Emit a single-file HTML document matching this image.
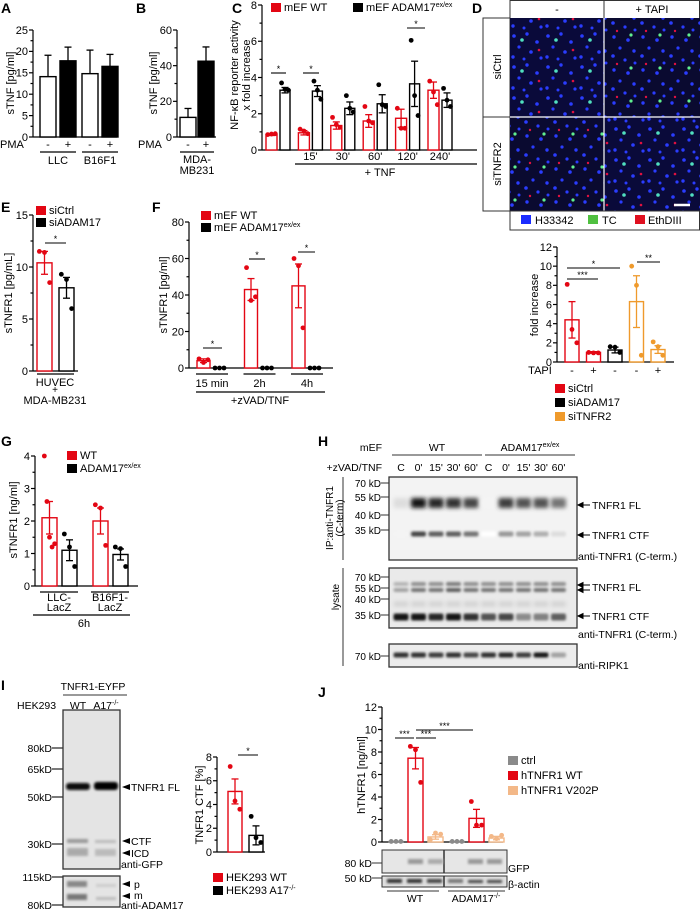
<!DOCTYPE html>
<html><head><meta charset="utf-8"><style>
html,body{margin:0;padding:0;background:#fff}
svg{display:block;font-family:"Liberation Sans",Arial,sans-serif}
</style></head><body>
<svg id="fig" width="700" height="910" viewBox="0 0 700 910" xmlns="http://www.w3.org/2000/svg">
<defs>
<filter id="blur1" x="-50%" y="-100%" width="200%" height="300%"><feGaussianBlur stdDeviation="1.2"/></filter>
<filter id="blur2" x="-50%" y="-100%" width="200%" height="300%"><feGaussianBlur stdDeviation="2.2"/></filter>
<pattern id="cells1" width="34" height="31" patternUnits="userSpaceOnUse">
<rect width="34" height="31" fill="#0a0a3a"/>
<circle cx="4" cy="5" r="1.8" fill="#2a3cff"/><circle cx="17" cy="3" r="1.7" fill="#2a3cff"/><circle cx="27" cy="11" r="1.8" fill="#2a3cff"/><circle cx="9" cy="16" r="1.6" fill="#2a3cff"/><circle cx="21" cy="21" r="1.8" fill="#2a3cff"/><circle cx="3" cy="26" r="1.7" fill="#2a3cff"/><circle cx="31" cy="27" r="1.6" fill="#2a3cff"/><circle cx="14" cy="28" r="1.5" fill="#2a3cff"/><circle cx="12" cy="9" r="1.8" fill="#50e0c0"/><circle cx="29" cy="19" r="1.3" fill="#e01040"/>
</pattern>
<pattern id="cells2" width="29" height="33" patternUnits="userSpaceOnUse">
<rect width="29" height="33" fill="#0a0a30"/>
<circle cx="5" cy="4" r="1.7" fill="#2a3cff"/><circle cx="19" cy="7" r="1.8" fill="#2a3cff"/><circle cx="11" cy="15" r="1.6" fill="#2a3cff"/><circle cx="25" cy="18" r="1.7" fill="#2a3cff"/><circle cx="4" cy="23" r="1.8" fill="#2a3cff"/><circle cx="16" cy="27" r="1.6" fill="#2a3cff"/><circle cx="26" cy="30" r="1.5" fill="#2a3cff"/><circle cx="22" cy="2" r="1.6" fill="#60f090"/><circle cx="8" cy="31" r="1.2" fill="#e01040"/>
</pattern>
</defs>
<g font-weight="bold" font-size="14">
<text x="1" y="13">A</text><text x="136" y="13">B</text><text x="232" y="13">C</text><text x="472" y="13">D</text>
<text x="1" y="212">E</text><text x="152" y="212">F</text><text x="1" y="446">G</text><text x="318" y="446">H</text>
<text x="1" y="690">I</text><text x="318" y="697">J</text>
</g>

<!-- D microscopy -->
<g>
<rect x="510" y="0.5" width="189.5" height="18" fill="#fff" stroke="#333"/>
<line x1="604" y1="0" x2="604" y2="18" stroke="#333"/>
<text x="557" y="13" font-size="11" text-anchor="middle">-</text>
<text x="652" y="13" font-size="11" text-anchor="middle">+ TAPI</text>
<rect x="483" y="18" width="27" height="193" fill="#fff" stroke="#333"/>
<line x1="483" y1="117" x2="510" y2="117" stroke="#333"/>
<text transform="translate(501,67) rotate(-90)" font-size="11" text-anchor="middle">siCtrl</text>
<text transform="translate(501,164) rotate(-90)" font-size="11" text-anchor="middle">siTNFR2</text>
<rect x="510" y="18" width="94" height="99" fill="url(#cells1)"/>
<rect x="604" y="18" width="96" height="99" fill="url(#cells2)"/>
<rect x="510" y="117" width="94" height="94" fill="url(#cells2)"/>
<rect x="604" y="117" width="96" height="94" fill="url(#cells1)"/>
<line x1="604" y1="18" x2="604" y2="211" stroke="#fff" stroke-width="1.2"/>
<line x1="510" y1="117" x2="700" y2="117" stroke="#fff" stroke-width="1.2"/>
<line x1="674" y1="205" x2="690" y2="205" stroke="#fff" stroke-width="2.5"/>
<rect x="510" y="211" width="189.5" height="19" fill="#fff" stroke="#333"/>
<rect x="521" y="215" width="10" height="9" fill="#1a2cff"/><text x="535" y="224" font-size="11">H33342</text>
<rect x="588" y="215" width="10" height="9" fill="#50c040"/><text x="602" y="224" font-size="11">TC</text>
<rect x="635" y="215" width="10" height="9" fill="#e01020"/><text x="648" y="224" font-size="11">EthDIII</text>
</g>

<!-- H blots -->
<g font-size="10.5">
<text x="382" y="451" text-anchor="end">mEF</text>
<text x="437" y="451" text-anchor="middle">WT</text>
<text x="530" y="451" text-anchor="middle">ADAM17<tspan font-size="7" dy="-4">ex/ex</tspan></text>
<line x1="392" y1="455" x2="482" y2="455" stroke="#333"/>
<line x1="485" y1="455" x2="575" y2="455" stroke="#333"/>
<text x="382" y="471" text-anchor="end">+zVAD/TNF</text>
<line x1="343" y1="477" x2="343" y2="560" stroke="#333"/>
<text transform="translate(333,518) rotate(-90)" font-size="10" text-anchor="middle">IP:anti-TNFR1</text>
<text transform="translate(343,518) rotate(-90)" font-size="10" text-anchor="middle">(C-term)</text>
<line x1="343" y1="568" x2="343" y2="666" stroke="#333"/>
<text transform="translate(339,597) rotate(-90)" font-size="10" text-anchor="middle">lysate</text>
<g id="hLanes"></g>
<rect x="389" y="477" width="188" height="83" fill="#f3f3f3" stroke="#333" stroke-width="1.3"/>
<rect x="389" y="568" width="188" height="60" fill="#eaeaea" stroke="#333" stroke-width="1.3"/>
<rect x="389" y="644" width="188" height="23" fill="#ececec" stroke="#333" stroke-width="1.3"/>
<g id="hBands"></g>
<g font-size="10" text-anchor="end">
<text x="381" y="487">70 kD</text><line x1="381" y1="483" x2="389" y2="483" stroke="#333"/>
<text x="381" y="501">55 kD</text><line x1="381" y1="497" x2="389" y2="497" stroke="#333"/>
<text x="381" y="519">40 kD</text><line x1="381" y1="515" x2="389" y2="515" stroke="#333"/>
<text x="381" y="534">35 kD</text><line x1="381" y1="530" x2="389" y2="530" stroke="#333"/>
<text x="381" y="581">70 kD</text><line x1="381" y1="577" x2="389" y2="577" stroke="#333"/>
<text x="381" y="592">55 kD</text><line x1="381" y1="588" x2="389" y2="588" stroke="#333"/>
<text x="381" y="603">40 kD</text><line x1="381" y1="599" x2="389" y2="599" stroke="#333"/>
<text x="381" y="619">35 kD</text><line x1="381" y1="615" x2="389" y2="615" stroke="#333"/>
<text x="381" y="660">70 kD</text><line x1="381" y1="656" x2="389" y2="656" stroke="#333"/>
</g>
<g font-size="10.5">
<text x="592" y="509">TNFR1 FL</text><path d="M578 505 L590 505 M578 505 l5 -2.5 v5z" stroke="#000" fill="#000"/>
<text x="592" y="539">TNFR1 CTF</text><path d="M578 535 L590 535 M578 535 l5 -2.5 v5z" stroke="#000" fill="#000"/>
<text x="578" y="560">anti-TNFR1 (C-term.)</text>
<text x="592" y="591">TNFR1 FL</text><path d="M578 585 L590 585 M578 585 l5 -2.5 v5z M578 590 L590 590 M578 590 l5 -2.5 v5z" stroke="#000" fill="#000"/>
<text x="592" y="620">TNFR1 CTF</text><path d="M578 616 L590 616 M578 616 l5 -2.5 v5z" stroke="#000" fill="#000"/>
<text x="578" y="638">anti-TNFR1 (C-term.)</text>
<text x="578" y="669">anti-RIPK1</text>
</g>
</g>

<!-- I blots -->
<g font-size="10.5">
<text x="93" y="690" text-anchor="middle">TNFR1-EYFP</text>
<line x1="63" y1="695" x2="127" y2="695" stroke="#333"/>
<text x="17" y="709">HEK293</text>
<text x="78" y="709" text-anchor="middle">WT</text>
<text x="106" y="709" text-anchor="middle">A17<tspan font-size="7" dy="-4">-/-</tspan></text>
<rect x="63" y="710" width="57" height="159" fill="#e4e4e4" stroke="#333" stroke-width="1.3"/>
<rect x="66" y="783" width="24" height="7" rx="3" fill="#111" filter="url(#blur1)"/>
<rect x="94" y="782" width="24" height="8" rx="3" fill="#000" filter="url(#blur1)"/>
<rect x="67" y="839" width="21" height="4" fill="#999" filter="url(#blur1)"/>
<rect x="95" y="840" width="21" height="3" fill="#bbb" filter="url(#blur1)"/>
<rect x="67" y="848" width="21" height="8" fill="#aaa" filter="url(#blur1)"/>
<rect x="95" y="849" width="21" height="7" fill="#bbb" filter="url(#blur1)"/>
<rect x="63" y="876" width="57" height="31" fill="#e4e4e4" stroke="#333" stroke-width="1.3"/>
<rect x="67" y="881" width="20" height="6" fill="#888" filter="url(#blur1)"/>
<rect x="67" y="894" width="20" height="6" fill="#777" filter="url(#blur1)"/>
<rect x="96" y="884" width="20" height="3" fill="#ccc" filter="url(#blur1)"/>
<rect x="96" y="897" width="20" height="3" fill="#bbb" filter="url(#blur1)"/>
<g font-size="10.5" text-anchor="end">
<text x="52" y="752">80kD</text><line x1="52" y1="748" x2="63" y2="748" stroke="#333" stroke-width="1.3"/>
<text x="52" y="773">65kD</text><line x1="52" y1="769" x2="63" y2="769" stroke="#333" stroke-width="1.3"/>
<text x="52" y="801">50kD</text><line x1="52" y1="797" x2="63" y2="797" stroke="#333" stroke-width="1.3"/>
<text x="52" y="848">30kD</text><line x1="52" y1="844" x2="63" y2="844" stroke="#333" stroke-width="1.3"/>
<text x="52" y="881">115kD</text><line x1="52" y1="877" x2="63" y2="877" stroke="#333" stroke-width="1.3"/>
<text x="52" y="909">80kD</text><line x1="52" y1="905" x2="63" y2="905" stroke="#333" stroke-width="1.3"/>
</g>
<path d="M122 787 l8 -3 v6z M122 841 l8 -3 v6z M122 853 l8 -3 v6z M122 884 l8 -3 v6z M122 896 l8 -3 v6z" fill="#000"/>
<text x="131" y="791">TNFR1 FL</text><text x="131" y="845">CTF</text><text x="131" y="857">ICD</text>
<text x="121" y="868">anti-GFP</text><text x="134" y="888">p</text><text x="134" y="899">m</text><text x="121" y="909">anti-ADAM17</text>
</g>

<!-- J blots -->
<g font-size="10.5">
<rect x="382" y="850" width="125" height="23" fill="#e6e6e6" stroke="#333"/>
<line x1="444" y1="850" x2="444" y2="873" stroke="#333" stroke-width="1.5"/>
<rect x="408" y="859" width="15" height="5" fill="#999" filter="url(#blur1)"/>
<rect x="428" y="859" width="15" height="5" fill="#aaa" filter="url(#blur1)"/>
<rect x="468" y="859" width="15" height="5" fill="#999" filter="url(#blur1)"/>
<rect x="487" y="859" width="15" height="5" fill="#999" filter="url(#blur1)"/>
<rect x="382" y="876" width="125" height="11" fill="#e0e0e0" stroke="#333"/>
<line x1="444" y1="876" x2="444" y2="887" stroke="#333" stroke-width="1.5"/>
<rect x="387" y="879" width="15" height="4" fill="#333" filter="url(#blur1)"/>
<rect x="407" y="879" width="15" height="4" fill="#333" filter="url(#blur1)"/>
<rect x="427" y="879" width="15" height="4" fill="#444" filter="url(#blur1)"/>
<rect x="448" y="879" width="15" height="4" fill="#777" filter="url(#blur1)"/>
<rect x="468" y="880" width="15" height="3" fill="#444" filter="url(#blur1)"/>
<rect x="487" y="880" width="15" height="3" fill="#444" filter="url(#blur1)"/>
<text x="372" y="867" text-anchor="end">80 kD</text><line x1="372" y1="863" x2="382" y2="863" stroke="#333"/>
<text x="372" y="882" text-anchor="end">50 kD</text><line x1="372" y1="878" x2="382" y2="878" stroke="#333"/>
<text x="508" y="872">GFP</text><text x="508" y="888">β-actin</text>
<line x1="387" y1="891" x2="439" y2="891" stroke="#333"/><line x1="448" y1="891" x2="505" y2="891" stroke="#333"/>
<text x="415" y="902" text-anchor="middle">WT</text>
<text x="476" y="902" text-anchor="middle">ADAM17<tspan font-size="7" dy="-4">-/-</tspan></text>
</g>
<g id="charts"></g>
</svg>
<script>
// ---------- data ----------
const aCategories=["LLC","B16F1"];
const aValues=[14.1,17.8,14.8,16.5];
const aErrors=[5.0,3.2,5.5,2.8];
const aTicks=[0,5,10,15,20,25];
const bValues=[11,42.5];
const bErrors=[5,8];
const bTicks=[0,20,40,60];
const cCategories=["","15'","30'","60'","120'","240'"];
const cWT=[0.85,0.95,1.35,1.6,1.75,3.3];
const cKO=[3.3,3.25,2.3,2.55,3.65,2.75];
const cWTerr=[0.05,0.12,0.2,0.35,0.5,0.45];
const cKOerr=[0.15,0.3,0.35,0.5,1.25,0.4];
const cWTpts=[[0.85,0.88,0.9],[1.15,1.05,0.9],[1.8,1.4,1.25],[2.4,1.6,1.5],[2.3,1.2,1.2],[3.8,3.2,2.5]];
const cKOpts=[[3.7,3.35,3.3],[3.8,3.3,2.8],[3.0,2.3,2.1],[3.6,2.5,2.4],[6.05,3.0,1.9],[3.4,2.75,2.4]];
const cTicks=[0,2,4,6,8];
const dTAPI=["-","+","-","-","+"];
const dValues=[4.4,1.0,1.25,6.3,1.3];
const dErrors=[1.9,0.08,0.3,2.7,0.4];
const dPts=[[8.1,3.4,2.0],[1.0,0.95,0.95],[1.6,1.55,1.0],[10.0,8.0,0.7],[2.1,1.6,0.7]];
const dTicks=[0,2,4,6,8,10,12];
const eValues=[10.4,8.0];
const eErrors=[1.1,1.0];
const ePts=[[11.5,11.4,8.5],[9.3,8.8,6.0]];
const eTicks=[0,5,10,15];
const fCategories=["15 min","2h","4h"];
const fWT=[4,43,45];
const fKO=[0,0,0];
const fWTerr=[1,6,12];
const fWTpts=[[5,3,4.5],[55,37,39],[60,56,22]];
const fKOpts=[[0,0,0],[0,0,0],[0,0,0]];
const fTicks=[0,20,40,60,80];
const gCategories=["LLC-|LacZ","B16F1-|LacZ"];
const gWT=[2.1,2.0];
const gKO=[1.1,0.97];
const gWTerr=[0.5,0.4];
const gKOerr=[0.32,0.17];
const gWTpts=[[4.0,2.6,1.5,1.2,1.3],[2.5,2.4,1.25]];
const gKOpts=[[1.6,1.2,0.6],[1.2,1.15,0.6]];
const gTicks=[0,1,2,3,4];
const iValues=[5.1,1.4];
const iErrors=[1.05,0.8];
const iPts=[[7.2,4.3,3.6],[3.0,1.2,0.8]];
const iTicks=[0,2,4,6,8];
const jGroups=["WT","ADAM17-/-"];
const jCtrl=[0.05,0.05];
const jWT=[7.45,2.1];
const jV202P=[0.45,0.35];
const jWTerr=[0.95,0.8];
const jV202Perr=[0.2,0.15];
const jWTpts=[[8.5,8.2,5.3],[3.6,1.5,1.5]];
const jV202Ppts=[[0.2,0.8,0.7],[0.5,0.3,0.6]];
const jTicks=[0,2,4,6,8,10,12];
const hLaneLabels=["C","0'","15'","30'","60'","C","0'","15'","30'","60'"];
const hIPfl=[0.15,1,0.95,0.9,0.8,0.05,0.85,0.75,0.75,0.6];
const hIPctf=[0.05,0.8,0.7,0.7,0.6,0,0.45,0.4,0.35,0.15];
const hLysFL=[0.4,0.6,0.6,0.7,0.6,0.6,0.6,0.6,0.6,0.6];
const hLysCTF=[1,1,0.95,1,0.9,0.75,0.8,0.5,0.55,0.7];
const hRIPK1=[0.9,0.9,0.85,0.9,0.8,0.9,0.95,0.85,1,0.4];

// ---------- helpers ----------
const NS='http://www.w3.org/2000/svg';
const root=document.getElementById('charts');
const RED='#e30613', ORANGE='#ef9a2c', PEACH='#f3b888', GRAY='#8a8a8a';
function mk(tag,attrs,parent){const e=document.createElementNS(NS,tag);for(const k in attrs)e.setAttribute(k,attrs[k]);(parent||root).appendChild(e);return e;}
function tx(p,x,y,s,fs,anchor,rot){const t=mk('text',rot?{transform:`translate(${x},${y}) rotate(-90)`,'font-size':fs,'text-anchor':anchor||'middle'}:{x:x,y:y,'font-size':fs,'text-anchor':anchor||'start'},p);t.textContent=s;return t;}
function ln(p,x1,y1,x2,y2,c,w){return mk('line',{x1:x1,y1:y1,x2:x2,y2:y2,stroke:c||'#000','stroke-width':w||1.2},p);}
function panel(name){const g=mk('g',{});return g;}
function yAxis(g,x,y0,y1,ticks,minor){
  const max=ticks[ticks.length-1];
  const s=v=>y0-(y0-y1)*v/max;
  ln(g,x,y0,x,y1);
  ticks.forEach((v,i)=>{ln(g,x-4,s(v),x,s(v));tx(g,x-5,s(v)+3.8,String(v),11,'end');
    if(minor&&i<ticks.length-1){const st=(ticks[i+1]-v)/minor;for(let k=1;k<minor;k++)ln(g,x-2.5,s(v+k*st),x,s(v+k*st));}});
  return s;
}
function bar(g,s,x,w,v,color,fill,err,pts,bothErr,name){
  const y=s(v),y0=s(0);
  const r=mk('rect',{x:x,y:y,width:w,height:Math.max(0,y0-y),fill:fill,stroke:color,'stroke-width':1.4},g);
  
  
  const cx=x+w/2;
  if(err){ln(g,cx,s(v+err),cx,bothErr?s(Math.max(0,v-err)):y,color==='#fff'?'#000':color,1.3);ln(g,cx-3.5,s(v+err),cx+3.5,s(v+err),color,1.3);
    if(bothErr)ln(g,cx-3.5,s(Math.max(0,v-err)),cx+3.5,s(Math.max(0,v-err)),color,1.3);}
  if(pts){const n=pts.length;pts.forEach((p,i)=>{const off=n>1?(i-(n-1)/2)*(w*0.55/(n-1)*2/1.6):0;
    const c=mk('circle',{cx:cx+off,cy:s(p),r:2.4,fill:color},g);
    
    });}
}
function star(g,x1,x2,y,s){ln(g,x1,y,x2,y,'#000',1.1);tx(g,(x1+x2)/2,y-1,s,9,'middle');}
function legend(g,x,y,color,label,sup){mk('rect',{x:x,y:y-8,width:10,height:9,fill:color},g);const t=tx(g,x+13,y,label,11,'start');if(sup){const ts=mk('tspan',{'font-size':7,dy:-4},t);ts.textContent=sup;}return t;}

// ---------- Panel A ----------
(function(){const g=panel('panel-a-chart');
 const s=yAxis(g,33,137,30,aTicks,2);ln(g,33,137,117,137);
 aValues.forEach((v,i)=>{const grp=Math.floor(i/2),k=i%2;bar(g,s,40+grp*42+k*20,16,v,'#000',k?'#000':'#fff',aErrors[i],null,false,'bar-a-'+i);});
 tx(g,14,83,'sTNF [pg/ml]',11,'middle',true);
 tx(g,0,148,'PMA',11);
 aValues.forEach((v,i)=>{const grp=Math.floor(i/2),k=i%2;tx(g,48+grp*42+k*20,148,k?'+':'-',11,'middle');});
 aCategories.forEach((c,i)=>{ln(g,40+i*42,152,76+i*42,152);tx(g,58+i*42,164,c,11,'middle');});
})();
// ---------- Panel B ----------
(function(){const g=panel('panel-b-chart');
 const s=yAxis(g,177,137,30,bTicks,2);ln(g,177,137,216,137);
 bValues.forEach((v,i)=>bar(g,s,180+i*18,16,v,'#000',i?'#000':'#fff',bErrors[i],null,false,'bar-b-'+i));
 tx(g,157,83,'sTNF [pg/ml]',11,'middle',true);
 tx(g,138,148,'PMA',11);tx(g,188,148,'-',11,'middle');tx(g,206,148,'+',11,'middle');
 ln(g,180,152,214,152);tx(g,197,163,'MDA-',11,'middle');tx(g,197,174,'MB231',11,'middle');
})();
// ---------- Panel C ----------
(function(){const g=panel('panel-c-chart');
 const s=yAxis(g,262,150,5,cTicks,2);ln(g,262,150,477,150);
 cCategories.forEach((c,i)=>{const x=266+i*32.4;
  bar(g,s,x,11,cWT[i],RED,'#fff',cWTerr[i],cWTpts[i],true,'bar-c-wt-'+i);
  bar(g,s,x+14,10,cKO[i],'#000','#fff',cKOerr[i],cKOpts[i],true,'bar-c-ko-'+i);
  if(c)tx(g,x+12,160,c,11,'middle');});
 ln(g,295,164,477,164);tx(g,380,176,'+ TNF',11,'middle');
 tx(g,238,75,'NF-κB reporter activity',11,'middle',true);tx(g,250,75,'x fold increase',11,'middle',true);
 star(g,271,286,73,'*');star(g,303,319,73,'*');star(g,407,425,28,'*');
 legend(g,271,11,RED,'mEF WT');legend(g,353,11,'#000','mEF ADAM17','ex/ex');
})();
// ---------- Panel D chart ----------
(function(){const g=panel('panel-d-chart');
 const s=yAxis(g,557,362,247,dTicks,2);ln(g,557,362,674,362);
 const cols=[RED,RED,'#000',ORANGE,ORANGE];
 dValues.forEach((v,i)=>{bar(g,s,565+i*21.5,14,v,cols[i],'#fff',dErrors[i],dPts[i],true,'bar-d-'+i);tx(g,572+i*21.5,374,dTAPI[i],11,'middle');});
 tx(g,540,374,'TAPI',11,'middle');
 tx(g,538,305,'fold increase',11,'middle',true);
 star(g,567,598,279,'***');star(g,567,620,268,'*');star(g,637,660,262,'**');
 legend(g,555,392,RED,'siCtrl');legend(g,555,406,'#000','siADAM17');legend(g,555,420,ORANGE,'siTNFR2');
})();
// ---------- Panel E ----------
(function(){const g=panel('panel-e-chart');
 const s=yAxis(g,33,371,215,eTicks,2);ln(g,33,371,78,371);
 const cols=[RED,'#000'];
 eValues.forEach((v,i)=>bar(g,s,37+i*22,15,v,cols[i],'#fff',eErrors[i],ePts[i],true,'bar-e-'+i));
 star(g,45,66,243,'*');ln(g,37,374,74,374);
 tx(g,55,386,'HUVEC',11,'middle');tx(g,55,393,'+',10,'middle');tx(g,55,404,'MDA-MB231',11,'middle');
 tx(g,12,293,'sTNFR1 [pg/mL]',11,'middle',true);
 legend(g,36,214,RED,'siCtrl');legend(g,36,226,'#000','siADAM17');
})();
// ---------- Panel F ----------
(function(){const g=panel('panel-f-chart');
 const s=yAxis(g,189,368,222,fTicks,2);ln(g,189,368,333,368);
 fCategories.forEach((c,i)=>{const x=197+i*47.5;
  bar(g,s,x,13,fWT[i],RED,'#fff',fWTerr[i],fWTpts[i],true,'bar-f-wt-'+i);
  bar(g,s,x+16,13,fKO[i],'#000','#fff',0,fKOpts[i],false,'bar-f-ko-'+i);
  ln(g,x-1,374,x+31,374);tx(g,x+15,387,c,11,'middle');});
 star(g,203,222,348,'*');star(g,249,265,259,'*');star(g,298,315,252,'*');
 ln(g,196,392,325,392);tx(g,260,404,'+zVAD/TNF',11,'middle');
 tx(g,167,295,'sTNFR1 [pg/ml]',11,'middle',true);
 legend(g,201,219,RED,'mEF WT');legend(g,201,231,'#000','mEF ADAM17','ex/ex');
})();
// ---------- Panel G ----------
(function(){const g=panel('panel-g-chart');
 const s=yAxis(g,35,586,456,gTicks,2);ln(g,35,586,138,586);
 gCategories.forEach((c,i)=>{const x=42+i*51;
  bar(g,s,x,15,gWT[i],RED,'#fff',gWTerr[i],gWTpts[i],true,'bar-g-wt-'+i);
  bar(g,s,x+20,15,gKO[i],'#000','#fff',gKOerr[i],gKOpts[i],true,'bar-g-ko-'+i);
  ln(g,x-2,592,x+36,592);const parts=c.split('|');tx(g,x+17,601,parts[0],11,'middle');tx(g,x+17,611,parts[1],11,'middle');});
 ln(g,33,615,130,615);tx(g,84,627,'6h',11,'middle');
 tx(g,17,520,'sTNFR1 [ng/ml]',11,'middle',true);
 legend(g,67,459,RED,'WT');legend(g,67,472,'#000','ADAM17','ex/ex');
})();
// ---------- Panel I chart ----------
(function(){const g=panel('panel-i-chart');
 const s=yAxis(g,217,852,757,iTicks,2);ln(g,217,852,265,852);
 const cols=[RED,'#000'];
 iValues.forEach((v,i)=>bar(g,s,228+i*21,14,v,cols[i],'#fff',iErrors[i],iPts[i],true,'bar-i-'+i));
 star(g,238,258,755,'*');
 tx(g,203,805,'TNFR1 CTF [%]',11,'middle',true);
 legend(g,213,881,RED,'HEK293 WT');legend(g,213,894,'#000','HEK293 A17','-/-');
})();
// ---------- Panel J chart ----------
(function(){const g=panel('panel-j-chart');
 const s=yAxis(g,382,842,707,jTicks,2);ln(g,382,842,503,842);
 jGroups.forEach((c,i)=>{const x=389+i*61;
  bar(g,s,x,14,jCtrl[i],GRAY,'#fff',0,[0.05,0.05,0.05],false,'bar-j-ctrl-'+i);
  bar(g,s,x+19,15,jWT[i],RED,'#fff',jWTerr[i],jWTpts[i],true,'bar-j-wt-'+i);
  bar(g,s,x+39,15,jV202P[i],PEACH,'#fff',jV202Perr[i],jV202Ppts[i],true,'bar-j-v202p-'+i);});
 star(g,395,414,738,'***');star(g,416,436,738,'***');star(g,416,473,730,'***');
 tx(g,365,775,'hTNFR1 [ng/ml]',11,'middle',true);
 legend(g,508,764,GRAY,'ctrl');legend(g,508,779,RED,'hTNFR1 WT');legend(g,508,794,PEACH,'hTNFR1  V202P');
})();
// ---------- Panel H lanes & bands ----------
(function(){const g=document.getElementById('hBands');const gl=document.getElementById('hLanes');
 hLaneLabels.forEach((l,i)=>{const cx=401+i*17.5;
  const t=document.createElementNS(NS,'text');t.setAttribute('x',cx);t.setAttribute('y',471);t.setAttribute('text-anchor','middle');t.textContent=l;gl.appendChild(t);
  
  
  const band=(y,h,v,blur)=>{const sh=Math.round(255-230*v);mk('rect',{x:cx-7.5,y:y-h/2,width:15,height:h,rx:2,fill:`rgb(${sh},${sh},${sh})`,filter:blur},g);};
  band(503,10,hIPfl[i],'url(#blur2)');band(534,5,hIPctf[i],'url(#blur1)');
  band(584,4,hLysFL[i]*0.8,'url(#blur1)');band(590,4,hLysFL[i],'url(#blur1)');band(604,5,0.2,'url(#blur2)');band(617,7,hLysCTF[i],'url(#blur1)');
  band(655,5,hRIPK1[i],'url(#blur1)');});
})();
</script>
</body></html>
